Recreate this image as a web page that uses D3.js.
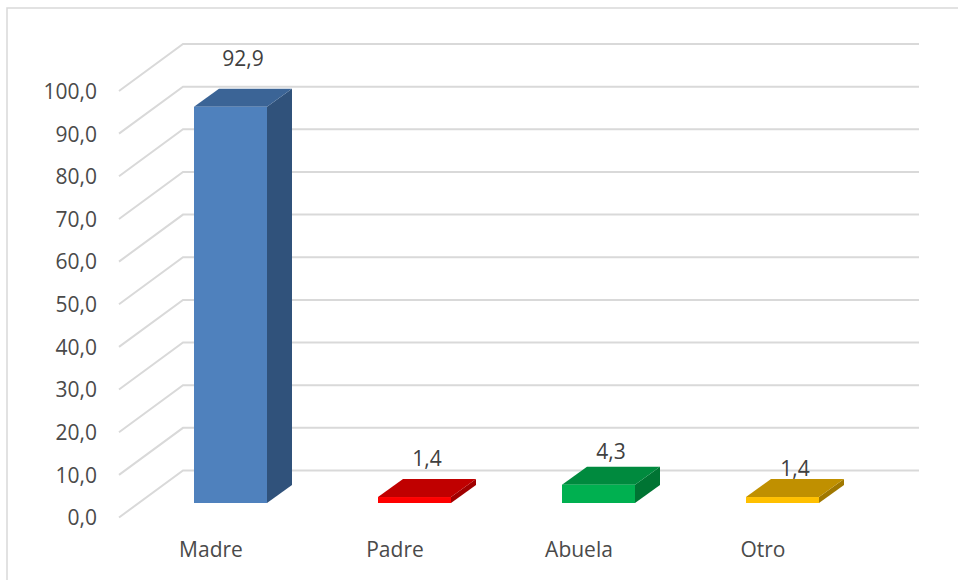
<!DOCTYPE html>
<html><head><meta charset="utf-8">
<script src="https://cdn.jsdelivr.net/npm/d3@7"></script>
<style>body{margin:0;background:#fff}svg{display:block}</style>
</head><body>
<svg id="c" width="958" height="580"></svg>
<script>
const categories = ["Madre", "Padre", "Abuela", "Otro"];
const values = [92.9, 1.4, 4.3, 1.4];
const valueLabels = ["92,9", "1,4", "4,3", "1,4"];
const tickValues = [0,10,20,30,40,50,60,70,80,90,100];
const tickLabels = ["0,0","10,0","20,0","30,0","40,0","50,0","60,0","70,0","80,0","90,0","100,0"];
const frontColors = ["#4F81BD", "#FF0000", "#00B050", "#FFC000"];
const topColors = ["#3B6496", "#C00000", "#008A3E", "#C09000"];
const sideColors = ["#30527B", "#A00000", "#007433", "#A07800"];
const labelNudge = [30, 20, 15, 10];

const svg = d3.select("#c");
const font = "'Open Sans', sans-serif";
const textColor = "#4a4a4a";
const gridColor = "#d9d9d9";

// border
svg.append("rect").attr("x", 7).attr("y", 8).attr("width", 1000).attr("height", 1000)
  .attr("fill", "none").attr("stroke", gridColor).attr("stroke-width", 1.5);

// scales (back wall)
const y = d3.scaleLinear().domain([0, 100]).range([470.5, 44]);
const wallDx = 64, wallDy = 47;
const floorLeft = 119, floorRight = 855;
const x = d3.scaleBand().domain(categories).range([floorLeft, floorRight]).paddingInner(0).paddingOuter(0);

// gridlines
const g = svg.append("g");
tickValues.forEach(t => {
  const yb = y(t);
  g.append("path")
    .attr("d", `M${floorLeft},${yb + wallDy}L${floorLeft + wallDx},${yb}L${floorRight + wallDx},${yb}`)
    .attr("fill", "none").attr("stroke", gridColor).attr("stroke-width", 2);
});

// y tick labels
const yAxis = d3.axisLeft(d3.scaleLinear().domain([0,100]).range([y(0)+wallDy, y(100)+wallDy]))
  .tickValues(tickValues).tickFormat((d,i) => tickLabels[i]).tickSize(0).tickPadding(0);
const ya = svg.append("g").attr("transform", `translate(97,0)`).call(yAxis);
ya.select(".domain").remove();
ya.selectAll("text").attr("font-family", font).attr("font-size", 21).attr("fill", textColor)
  .attr("dy", "0.35em");

// bars
const barOff = 75, barW = 73, barFrontDy = 32.5, depthX = 25, depthY = 18;
const bars = svg.append("g");
categories.forEach((c, i) => {
  const x0 = x(c) + barOff, x1 = x0 + barW;
  const yb = y(0) + barFrontDy, yt = y(values[i]) + barFrontDy;
  // side
  bars.append("path").attr("d", `M${x1},${yb}L${x1+depthX},${yb-depthY}L${x1+depthX},${yt-depthY}L${x1},${yt}Z`)
    .attr("fill", sideColors[i]);
  // top
  bars.append("path").attr("d", `M${x0},${yt}L${x0+depthX},${yt-depthY}L${x1+depthX},${yt-depthY}L${x1},${yt}Z`)
    .attr("fill", topColors[i]);
  // front
  bars.append("rect").attr("x", x0).attr("y", yt).attr("width", barW).attr("height", yb - yt)
    .attr("fill", frontColors[i]);
  // value label
  svg.append("text").attr("x", x0 + barW/2 + depthX/2).attr("y", yt - depthY - labelNudge[i])
    .attr("dy", "0.35em").attr("text-anchor", "middle")
    .attr("font-family", font).attr("font-size", 21).attr("fill", "#404040").text(valueLabels[i]);
});

// category labels
categories.forEach(c => {
  svg.append("text").attr("x", x(c) + x.bandwidth()/2).attr("y", 550).attr("dy", "0.35em")
    .attr("text-anchor", "middle").attr("font-family", font).attr("font-size", 21)
    .attr("fill", textColor).text(c);
});
</script>
</body></html>
